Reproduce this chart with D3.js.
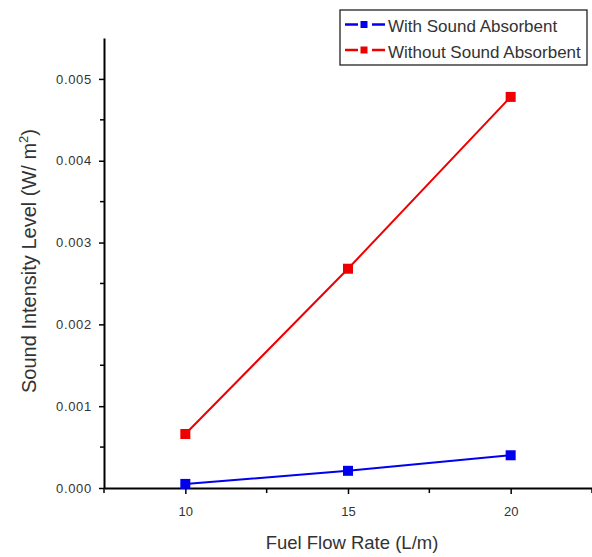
<!DOCTYPE html>
<html>
<head>
<meta charset="utf-8">
<script src="https://cdn.jsdelivr.net/npm/d3@7"></script>
<style>
  body { margin: 0; background: #fff; }
  text { font-family: "Liberation Sans", Arial, sans-serif; fill: #333; }
</style>
</head>
<body>
<div id="chart"></div>
<script>
// chart data
var flowRates = [10, 15, 20];
var withAbsorbent = [0.00005, 0.00021, 0.00040];
var withoutAbsorbent = [0.00066, 0.00268, 0.00478];
var seriesNames = ["With Sound Absorbent", "Without Sound Absorbent"];
var seriesColors = ["#0000ee", "#ee0000"];
var xTicks = [10, 15, 20];
var yTicks = [0, 0.001, 0.002, 0.003, 0.004, 0.005];
var xMinor = [7.5, 12.5, 17.5, 22.5];
var yMinor = [0.0005, 0.0015, 0.0025, 0.0035, 0.0045];

var width = 592, height = 557;

var svg = d3.select("#chart")
    .append("svg")
    .attr("width", width)
    .attr("height", height);

var x = d3.scaleLinear().domain([7.5, 22.5]).range([104, 592]);
var y = d3.scaleLinear().domain([0, 0.0055]).range([488, 38]);

// minor ticks
svg.append("g")
    .selectAll("line")
    .data(xMinor)
    .enter().append("line")
    .attr("x1", function(d) { return x(d); })
    .attr("x2", function(d) { return x(d); })
    .attr("y1", 488)
    .attr("y2", 493)
    .attr("stroke", "#000")
    .attr("stroke-width", 1.5);

svg.append("g")
    .selectAll("line")
    .data(yMinor)
    .enter().append("line")
    .attr("x1", 104)
    .attr("x2", 100)
    .attr("y1", function(d) { return y(d); })
    .attr("y2", function(d) { return y(d); })
    .attr("stroke", "#000")
    .attr("stroke-width", 1.5);

// axes
var xAxis = svg.append("g")
    .attr("transform", "translate(0,488)")
    .call(d3.axisBottom(x).tickValues(xTicks).tickSize(6).tickPadding(13).tickSizeOuter(0));

var yAxis = svg.append("g")
    .attr("transform", "translate(104,0)")
    .call(d3.axisLeft(y).tickValues(yTicks).tickFormat(d3.format(".3f")).tickSize(5).tickPadding(7).tickSizeOuter(0));

[xAxis, yAxis].forEach(function(a) {
    a.select(".domain").attr("stroke", "#000").attr("stroke-width", 2);
    a.selectAll(".tick line").attr("stroke", "#000").attr("stroke-width", 1.5);
    a.selectAll(".tick text").style("font-size", "13px").attr("fill", "#444");
});
yAxis.selectAll(".tick text").style("letter-spacing", "0.7px");

// axis titles
svg.append("text")
    .attr("x", 352)
    .attr("y", 549)
    .attr("text-anchor", "middle")
    .style("font-size", "18.5px")
    .text("Fuel Flow Rate (L/m)");

var yLabel = svg.append("text")
    .attr("transform", "translate(36,261) rotate(-90)")
    .attr("text-anchor", "middle")
    .style("font-size", "20px");
yLabel.append("tspan").text("Sound Intensity Level (W/ m");
yLabel.append("tspan").attr("dy", -8).style("font-size", "13px").text("2");
yLabel.append("tspan").attr("dy", 8).text(")");

// series
var allSeries = [withAbsorbent, withoutAbsorbent];
var line = d3.line()
    .x(function(d, i) { return x(flowRates[i]); })
    .y(function(d) { return y(d); });

allSeries.forEach(function(vals, s) {
    svg.append("path")
        .datum(vals)
        .attr("d", line)
        .attr("fill", "none")
        .attr("stroke", seriesColors[s])
        .attr("stroke-width", 2);

    svg.append("g")
        .selectAll("rect")
        .data(vals)
        .enter().append("rect")
        .attr("x", function(d, i) { return x(flowRates[i]) - 5; })
        .attr("y", function(d) { return y(d) - 5; })
        .attr("width", 10)
        .attr("height", 10)
        .attr("fill", seriesColors[s]);
});

// legend
var legend = svg.append("g");
legend.append("rect")
    .attr("x", 340)
    .attr("y", 10)
    .attr("width", 247)
    .attr("height", 55)
    .attr("fill", "#fff")
    .attr("stroke", "#222")
    .attr("stroke-width", 1.3);

seriesNames.forEach(function(name, i) {
    var ly = 24.5 + i * 25.5;
    legend.append("line")
        .attr("x1", 345).attr("x2", 358)
        .attr("y1", ly).attr("y2", ly)
        .attr("stroke", seriesColors[i]).attr("stroke-width", 2.5);
    legend.append("line")
        .attr("x1", 372).attr("x2", 385)
        .attr("y1", ly).attr("y2", ly)
        .attr("stroke", seriesColors[i]).attr("stroke-width", 2.5);
    legend.append("rect")
        .attr("x", 360.5).attr("y", ly - 3.5)
        .attr("width", 7).attr("height", 7)
        .attr("fill", seriesColors[i]);
    legend.append("text")
        .attr("x", 388)
        .attr("y", ly + 7.5)
        .style("font-size", "17px")
        .text(name);
});
</script>
</body>
</html>
